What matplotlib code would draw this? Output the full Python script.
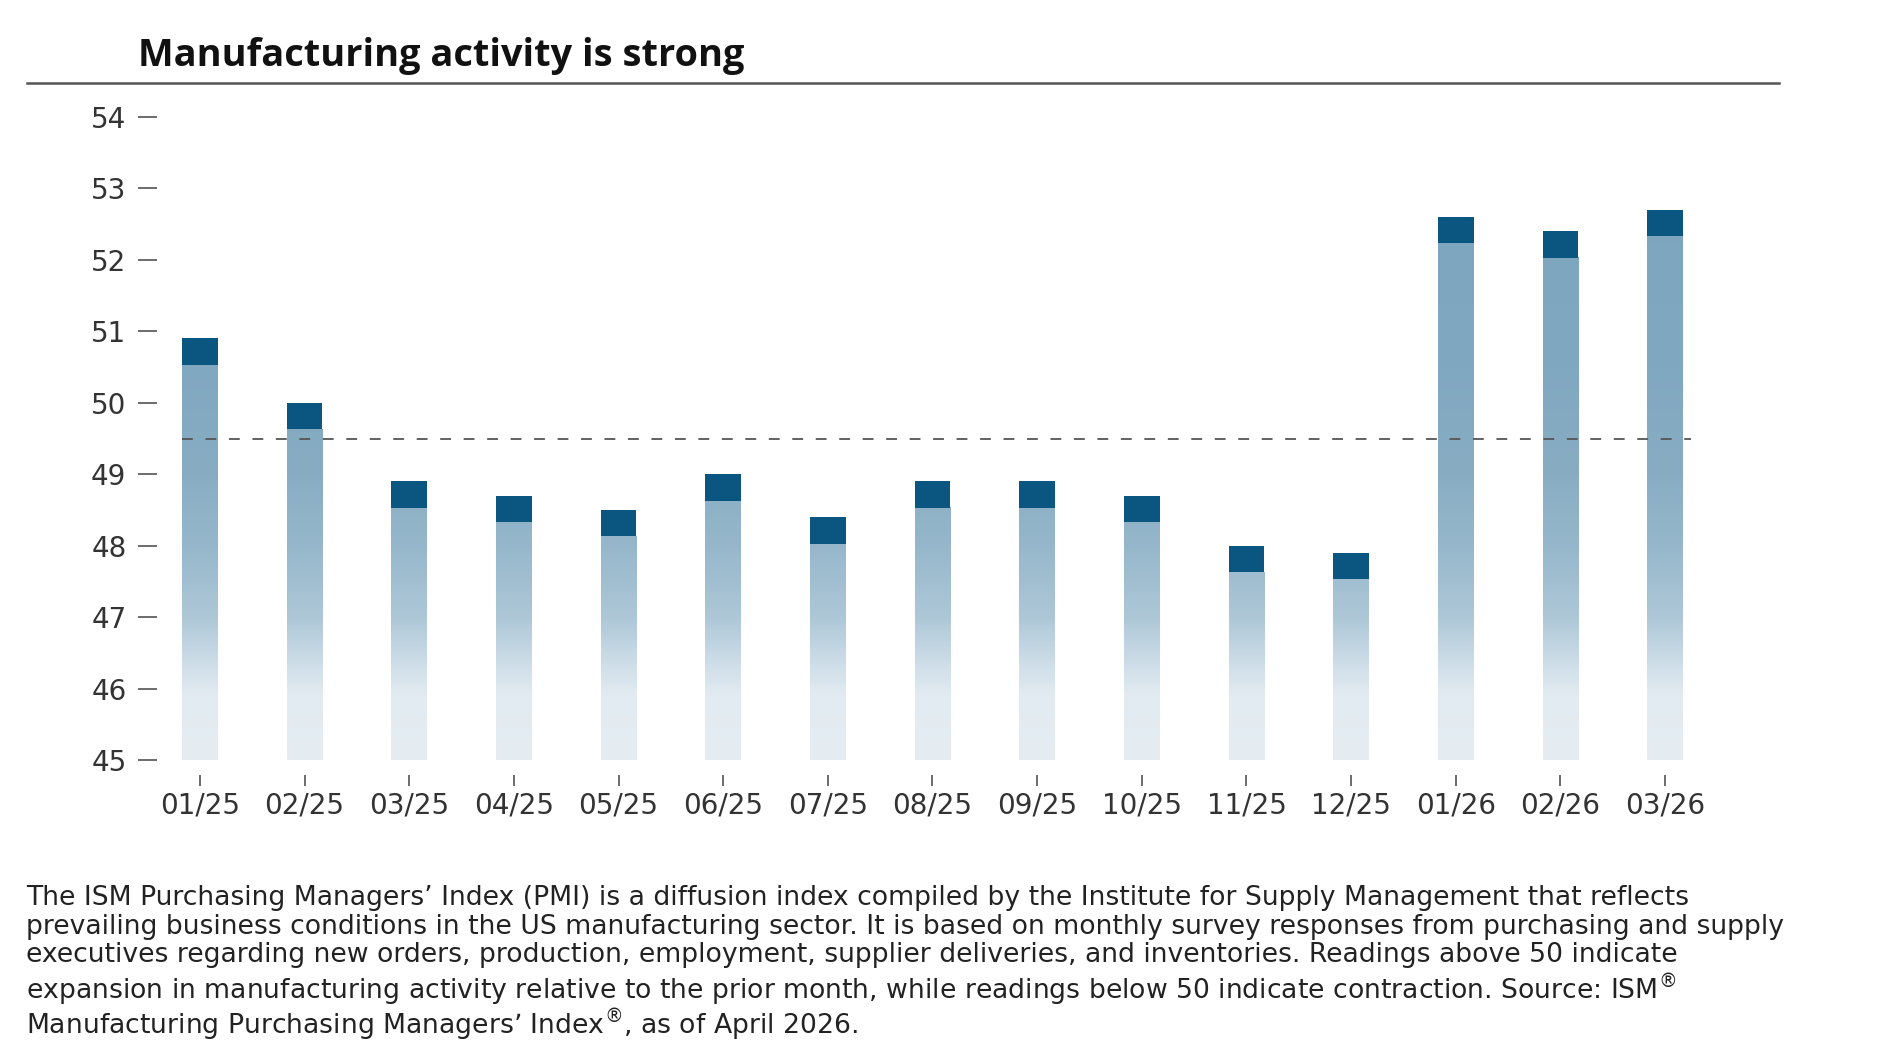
import numpy as np
import matplotlib
matplotlib.use("Agg")
import matplotlib.pyplot as plt
from matplotlib.lines import Line2D

# ---------------- data ----------------
months = ["01/25", "02/25", "03/25", "04/25", "05/25", "06/25", "07/25", "08/25",
          "09/25", "10/25", "11/25", "12/25", "01/26", "02/26", "03/26"]
pmi = [50.9, 50.0, 48.9, 48.7, 48.5, 49.0, 48.4, 48.9, 48.9, 48.7, 48.0, 47.9, 52.6, 52.4, 52.7]
y_ticks = [45, 46, 47, 48, 49, 50, 51, 52, 53, 54]
ref_level = 49.5

title = "Manufacturing activity is strong"
footnote_lines = [
    "The ISM Purchasing Managers\u2019 Index (PMI) is a diffusion index compiled by the Institute for Supply Management that reflects",
    "prevailing business conditions in the US manufacturing sector. It is based on monthly survey responses from purchasing and supply",
    "executives regarding new orders, production, employment, supplier deliveries, and inventories. Readings above 50 indicate",
    "expansion in manufacturing activity relative to the prior month, while readings below 50 indicate contraction. Source: ISM$^{\u00ae}$",
    "Manufacturing Purchasing Managers\u2019 Index$^{\u00ae}$, as of April 2026.",
]

# ---------------- style ----------------
W, H = 1891, 1056
dark = "#0B5581"
cap_h = 0.37
bar_w = 0.34
y_min, y_max = 45, 54
grad_y = [45.0, 45.9, 46.3, 47.0, 48.0, 49.0, 50.5, 54.0]
grad_c = np.array([
    [0xE5, 0xED, 0xF3],
    [0xE2, 0xEB, 0xF1],
    [0xD0, 0xDF, 0xE9],
    [0xAD, 0xC7, 0xD7],
    [0x96, 0xB7, 0xCB],
    [0x88, 0xAD, 0xC3],
    [0x80, 0xA8, 0xC0],
    [0x7C, 0xA5, 0xBE],
]) / 255.0

plt.rcParams["font.family"] = ["DejaVu Sans"]
plt.rcParams["mathtext.fontset"] = "dejavusans"

fig = plt.figure(figsize=(W / 100, H / 100), dpi=100)
ax = fig.add_axes([157 / W, 1 - 760 / H, (1720 - 157) / W, (760 - 117) / H])

x = np.arange(len(months))
for xi, v in zip(x, pmi):
    top = v - cap_h
    ys = np.linspace(y_min, top, 300)
    col = np.stack([np.interp(ys, grad_y, grad_c[:, k]) for k in range(3)], axis=1)
    img = np.repeat(col[:, None, :], 2, axis=1)
    ax.imshow(img, extent=[xi - bar_w / 2, xi + bar_w / 2, y_min, top],
              origin="lower", aspect="auto", interpolation="bilinear", zorder=1)
ax.bar(x, [cap_h] * len(pmi), bottom=np.array(pmi) - cap_h, width=bar_w,
       color=dark, zorder=2, linewidth=0)

ax.hlines(ref_level, x[0] - bar_w / 2, x[-1] + bar_w / 2 + 0.08, colors="#555555",
          linestyles=(0, (6, 7)), linewidth=1.3, zorder=3)

ax.set_xlim(-0.41, 14.525)
ax.set_ylim(y_min, y_max)
ax.set_yticks(y_ticks)
ax.set_xticks(x)
ax.set_xticklabels(months)
for s in ax.spines.values():
    s.set_visible(False)
ax.spines["bottom"].set_position(("outward", 11))
ax.tick_params(axis="y", length=14, width=1.1, color="#444444", pad=8,
               labelsize=20, labelcolor="#333333")
ax.tick_params(axis="x", length=8, width=1.1, color="#444444", pad=4,
               labelsize=20, labelcolor="#333333")

fig.text(138 / W, 1 - 56 / H, title, fontsize=27.3, fontweight="bold",
         family=["Open Sans", "DejaVu Sans"], va="center", ha="left", color="#111111")
fig.add_artist(Line2D([26.5 / W, 1779 / W], [1 - 83 / H] * 2, transform=fig.transFigure,
                      color="#555555", linewidth=1.8))

foot_y = [898, 927, 955, 990, 1025]
for line, yy in zip(footnote_lines, foot_y):
    fig.text(26.5 / W, 1 - yy / H, line, fontsize=19.2, family=["DejaVu Sans"],
             va="center", ha="left", color="#222222")

fig.savefig("out.png", dpi=100, facecolor="white")
